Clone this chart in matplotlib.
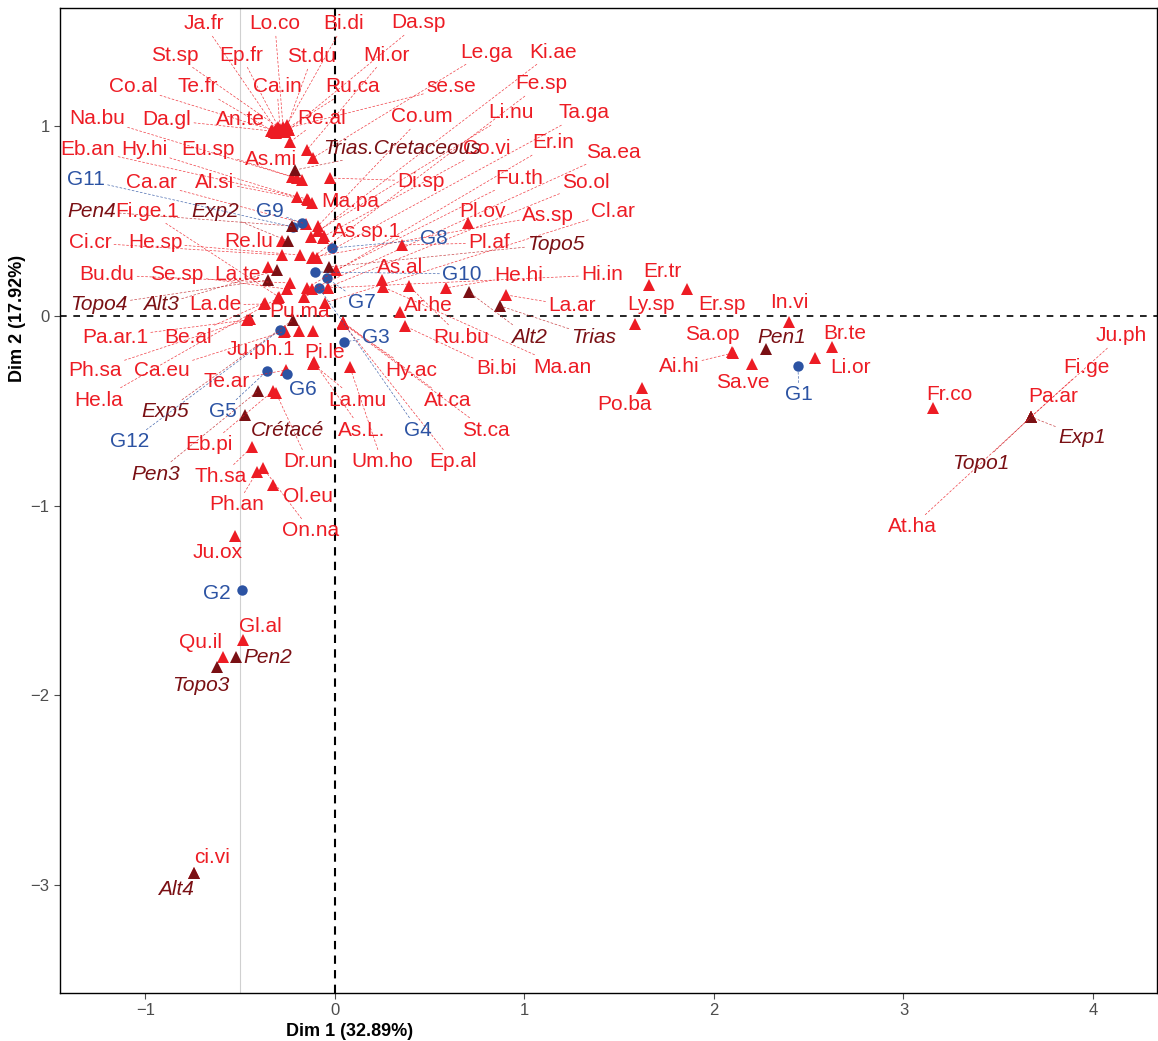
import numpy as np
import matplotlib
matplotlib.use("Agg")
import matplotlib.pyplot as plt

plt.rcParams['font.family'] = ['Liberation Sans', 'DejaVu Sans']

# ==========================================
# 1. DATA (coordonnees Dim 1 / Dim 2)
# ==========================================
# especes (points actifs)
esp_noms = ['Ja.fr', 'Lo.co', 'Bi.di', 'Da.sp', 'St.sp', 'Ep.fr', 'St.du', 'Co.al', 'Te.fr', 'Ca.in',
            'Ru.ca', 'se.se', 'Da.gl', 'An.te', 'Re.al', 'Mi.or', 'Le.ga', 'Na.bu', 'As.mi', 'Eu.sp',
            'Di.sp', 'Hy.hi', 'Eb.an', 'Al.si', 'Ma.pa', 'Ca.ar', 'Co.um', 'Li.nu', 'Ki.ae', 'As.sp.1',
            'Co.vi', 'Re.lu', 'Ci.cr', 'He.sp', 'Fe.sp', 'Ta.ga', 'As.sp', 'La.te', 'Fu.th', 'Bu.du',
            'Se.sp', 'Er.in', 'Sa.ea', 'Hi.in', 'Fi.ge.1', 'He.la', 'So.ol', 'La.de', 'Be.al', 'Pa.ar.1',
            'Ph.sa', 'Ca.eu', 'Cl.ar', 'Ju.ph.1', 'Pu.ma', 'Pi.le', 'Hy.ac', 'At.ca', 'St.ca', 'Ep.al',
            'La.mu', 'As.L.', 'Um.ho', 'Te.ar', 'Eb.pi', 'Dr.un', 'Th.sa', 'Ph.an', 'On.na', 'Ol.eu',
            'Ju.ox', 'Gl.al', 'Qu.il', 'ci.vi', 'Pl.ov', 'Pl.af', 'As.al', 'Ma.an', 'Ru.bu', 'He.hi',
            'La.ar', 'Ar.he', 'Bi.bi', 'Ly.sp', 'Po.ba', 'Er.tr', 'Er.sp', 'In.vi', 'Sa.op', 'Ai.hi',
            'Sa.ve', 'Br.te', 'Li.or', 'Fr.co', 'Ju.ph', 'Fi.ge', 'Pa.ar', 'At.ha']
esp_dim1 = [-0.311, -0.274, -0.253, -0.243, -0.301, -0.285, -0.264, -0.332, -0.322, -0.290,
            -0.248, -0.269, -0.338, -0.311, -0.237, -0.148, -0.116, -0.227, -0.201, -0.174,
            -0.026, -0.201, -0.148, -0.140, -0.121, -0.153, -0.090, -0.090, -0.127, -0.063,
            -0.058, -0.280, -0.280, -0.185, -0.121, -0.095, -0.115, -0.354, 0.005, -0.237,
            -0.253, -0.148, -0.121, -0.037, -0.296, -0.300, -0.164, -0.375, -0.370, -0.464,
            -0.450, -0.265, -0.053, -0.269, -0.190, -0.116, 0.042, 0.040, 0.045, 0.040,
            -0.116, -0.110, 0.079, -0.259, -0.327, -0.311, -0.438, -0.412, -0.380, -0.327,
            -0.528, -0.485, -0.591, -0.744, 0.702, 0.354, 0.248, 0.253, 0.391, 0.586,
            0.902, 0.343, 0.369, 1.583, 1.620, 1.657, 1.858, 2.396, 2.095, 2.100,
            2.201, 2.623, 2.533, 3.156, 3.673, 3.673, 3.673, 3.673]
esp_dim2 = [0.985, 0.996, 1.007, 0.980, 0.996, 0.970, 0.970, 0.980, 0.970, 0.985,
            0.991, 0.985, 0.975, 0.964, 0.917, 0.875, 0.833, 0.733, 0.727, 0.717,
            0.727, 0.627, 0.617, 0.610, 0.596, 0.485, 0.474, 0.448, 0.416, 0.411,
            0.420, 0.395, 0.321, 0.321, 0.306, 0.306, 0.310, 0.258, 0.242, 0.174,
            0.142, 0.148, 0.142, 0.148, 0.100, 0.095, 0.100, 0.063, 0.070, -0.021,
            -0.015, -0.080, 0.069, -0.084, -0.079, -0.079, -0.037, -0.030, -0.040, -0.035,
            -0.253, -0.245, -0.269, -0.285, -0.395, -0.406, -0.690, -0.822, -0.801, -0.891,
            -1.159, -1.707, -1.797, -2.935, 0.490, 0.374, 0.190, 0.153, 0.158, 0.148,
            0.111, 0.021, -0.053, -0.042, -0.379, 0.163, 0.142, -0.032, -0.190, -0.195,
            -0.253, -0.163, -0.221, -0.485, -0.532, -0.532, -0.532, -0.532]

# variables environnementales (supplementaires)
env_noms = ['Trias.Cretaceous', 'Pen4', 'Exp2', 'Alt3', 'Topo4', 'Topo5', 'Exp5', 'Alt2', 'Trias',
            'Pen1', 'Pen3', 'Crétacé', 'Pen2', 'Topo3', 'Alt4', 'Exp1', 'Topo1']
env_dim1 = [-0.211, -0.227, -0.248, -0.306, -0.354, -0.032, -0.222, 0.707, 0.871,
            2.274, -0.406, -0.475, -0.522, -0.623, -0.744, 3.673, 3.673]
env_dim2 = [0.769, 0.474, 0.395, 0.242, 0.190, 0.258, -0.021, 0.126, 0.053,
            -0.174, -0.395, -0.522, -1.797, -1.850, -2.935, -0.532, -0.532]

# groupes
grp_noms = ['G1', 'G2', 'G3', 'G4', 'G5', 'G6', 'G7', 'G8', 'G9', 'G10', 'G11', 'G12']
grp_dim1 = [2.443, -0.491, 0.047, -0.084, -0.359, -0.253, -0.042, -0.016, -0.174, -0.106, -0.222, -0.290]
grp_dim2 = [-0.264, -1.444, -0.137, 0.148, -0.290, -0.306, 0.200, 0.358, 0.490, 0.232, 0.469, -0.074]

# ==========================================
# 2. PLACEMENT DES ETIQUETTES (style ggrepel)
# ==========================================
etiquettes = {
    'Ja.fr': (-0.691, 1.539), 'Lo.co': (-0.317, 1.539), 'Bi.di': (0.047, 1.539), 'Da.sp': (0.443, 1.544),
    'St.sp': (-0.844, 1.375), 'Ep.fr': (-0.496, 1.375), 'St.du': (-0.121, 1.365), 'Mi.or': (0.274, 1.375),
    'Le.ga': (0.797, 1.391), 'Ki.ae': (1.150, 1.391), 'Co.al': (-1.066, 1.207), 'Te.fr': (-0.723, 1.207),
    'Ca.in': (-0.306, 1.207), 'Ru.ca': (0.095, 1.207), 'se.se': (0.612, 1.207), 'Fe.sp': (1.087, 1.223),
    'Na.bu': (-1.256, 1.043), 'Da.gl': (-0.887, 1.033), 'An.te': (-0.501, 1.038), 'Re.al': (-0.069, 1.043),
    'Co.um': (0.459, 1.049), 'Li.nu': (0.929, 1.070), 'Ta.ga': (1.314, 1.070), 'Eb.an': (-1.303, 0.875),
    'Hy.hi': (-1.008, 0.875), 'Eu.sp': (-0.670, 0.875), 'As.mi': (-0.338, 0.827), 'Co.vi': (0.800, 0.885),
    'Er.in': (1.150, 0.912), 'Sa.ea': (1.467, 0.864), 'Ca.ar': (-0.966, 0.701), 'Al.si': (-0.633, 0.706),
    'Di.sp': (0.454, 0.711), 'Fu.th': (0.971, 0.727), 'So.ol': (1.325, 0.701), 'Fi.ge.1': (-0.992, 0.553),
    'Ma.pa': (0.079, 0.601), 'Pl.ov': (0.776, 0.553), 'As.sp': (1.124, 0.532), 'Cl.ar': (1.467, 0.548),
    'Ci.cr': (-1.293, 0.385), 'He.sp': (-0.950, 0.385), 'Re.lu': (-0.454, 0.395), 'As.sp.1': (0.169, 0.443),
    'Pl.af': (0.813, 0.385), 'Bu.du': (-1.203, 0.216), 'Se.sp': (-0.834, 0.216), 'La.te': (-0.512, 0.216),
    'As.al': (0.343, 0.253), 'He.hi': (0.971, 0.211), 'Hi.in': (1.409, 0.216), 'Er.tr': (1.726, 0.232),
    'La.de': (-0.633, 0.058), 'Ar.he': (0.491, 0.053), 'La.ar': (1.251, 0.053), 'Ly.sp': (1.668, 0.058),
    'Er.sp': (2.042, 0.063), 'In.vi': (2.396, 0.069), 'Pu.ma': (-0.185, 0.021), 'Pa.ar.1': (-1.161, -0.111),
    'Be.al': (-0.776, -0.111), 'Ru.bu': (0.665, -0.111), 'Sa.op': (1.989, -0.100), 'Br.te': (2.691, -0.095),
    'Ju.ph.1': (-0.391, -0.179), 'Pi.le': (-0.053, -0.190), 'Ph.sa': (-1.266, -0.285), 'Ca.eu': (-0.913, -0.285),
    'Hy.ac': (0.401, -0.285), 'Bi.bi': (0.850, -0.279), 'Ma.an': (1.198, -0.269), 'Ai.hi': (1.815, -0.264),
    'Li.or': (2.723, -0.269), 'Sa.ve': (2.153, -0.348), 'Te.ar': (-0.570, -0.343), 'He.la': (-1.245, -0.443),
    'Po.ba': (1.530, -0.469), 'La.mu': (0.116, -0.443), 'At.ca': (0.596, -0.443), 'As.L.': (0.142, -0.601),
    'St.ca': (0.797, -0.601), 'Eb.pi': (-0.665, -0.680), 'Dr.un': (-0.142, -0.769), 'Um.ho': (0.248, -0.769),
    'Ep.al': (0.623, -0.769), 'Th.sa': (-0.602, -0.848), 'Ol.eu': (-0.142, -0.954), 'Ph.an': (-0.517, -0.996),
    'On.na': (-0.127, -1.133), 'Ju.ox': (-0.617, -1.249), 'Gl.al': (-0.396, -1.639), 'Qu.il': (-0.712, -1.723),
    'ci.vi': (-0.649, -2.856), 'Fr.co': (3.240, -0.416), 'Ju.ph': (4.148, -0.105), 'Fi.ge': (3.963, -0.269),
    'Pa.ar': (3.789, -0.427), 'At.ha': (3.045, -1.112),
    # variables
    'Trias.Cretaceous': (0.354, 0.885), 'Pen4': (-1.282, 0.553), 'Exp2': (-0.633, 0.553),
    'Topo5': (1.166, 0.379), 'Topo4': (-1.245, 0.058), 'Alt3': (-0.918, 0.058), 'Exp5': (-0.897, -0.506),
    'Alt2': (1.024, -0.111), 'Trias': (1.367, -0.111), 'Pen1': (2.359, -0.111), 'Pen3': (-0.945, -0.833),
    'Crétacé': (-0.253, -0.606), 'Pen2': (-0.354, -1.802), 'Topo3': (-0.707, -1.945), 'Alt4': (-0.839, -3.020),
    'Exp1': (3.942, -0.638), 'Topo1': (3.409, -0.780),
    # groupes
    'G1': (2.449, -0.416), 'G2': (-0.623, -1.460), 'G3': (0.216, -0.111), 'G4': (0.438, -0.601),
    'G5': (-0.591, -0.506), 'G6': (-0.169, -0.390), 'G7': (0.142, 0.069), 'G8': (0.522, 0.406),
    'G9': (-0.343, 0.553), 'G10': (0.670, 0.221), 'G11': (-1.314, 0.717), 'G12': (-1.082, -0.664),
}

ROUGE = '#ED1C24'
BORDEAUX = '#7A1014'
BLEU = '#2C53A3'

# ==========================================
# 3. FIGURE
# ==========================================
fig = plt.figure(figsize=(11.58, 10.41), dpi=100)
ax = fig.add_axes([60 / 1158, 48 / 1041, 1097 / 1158, 985 / 1041])
ax.set_xlim(-1.451, 4.338)
ax.set_ylim(-3.568, 1.623)

ax.axvline(-0.5, color='#d0d0d0', lw=0.8, zorder=0)
ax.axhline(0, color='black', lw=1.2, ls=(0, (4, 4)), zorder=1)
ax.axvline(0, color='black', lw=1.5, ls=(0, (4, 3)), zorder=1)

ax.plot(esp_dim1, esp_dim2, '^', color=ROUGE, ms=8, mew=0, zorder=3)
ax.plot(grp_dim1, grp_dim2, 'o', color=BLEU, ms=7.5, mew=0, zorder=4)
ax.plot(env_dim1, env_dim2, '^', color=BORDEAUX, ms=8, mew=0, zorder=5)

# px par unite (pour decider si on trace un segment)
PX_X, PX_Y = 189.5, 189.75


def etiqueter(noms, xs, ys, couleur, couleur_trait, italique=False):
    for nom, x, y in zip(noms, xs, ys):
        lx, ly = etiquettes[nom]
        dx = abs(lx - x) * PX_X
        dy = abs(ly - y) * PX_Y
        gx = max(dx - 5.1 * len(nom), 0)
        gy = max(dy - 9, 0)
        fleche = None
        if np.hypot(gx, gy) > 15:
            fleche = dict(arrowstyle='-', color=couleur_trait, lw=0.5, ls=(0, (3, 3)),
                          shrinkA=0, shrinkB=1, alpha=0.85)
        ax.annotate(nom, xy=(x, y), xytext=(lx, ly), ha='center', va='center',
                    fontsize=15, color=couleur, style='italic' if italique else 'normal',
                    arrowprops=fleche, zorder=6)


etiqueter(esp_noms, esp_dim1, esp_dim2, ROUGE, ROUGE)
etiqueter(env_noms, env_dim1, env_dim2, BORDEAUX, '#C0282C', italique=True)
etiqueter(grp_noms, grp_dim1, grp_dim2, BLEU, BLEU)

# axes
ax.set_xticks([-1, 0, 1, 2, 3, 4])
ax.set_yticks([-3, -2, -1, 0, 1])
ax.tick_params(labelsize=12, colors='#4d4d4d', length=4)
for s in ax.spines.values():
    s.set_color('black')
    s.set_linewidth(1.0)

fig.text(350 / 1158, 10 / 1041, 'Dim 1 (32.89%)', ha='center', va='center',
         fontsize=13, fontweight='bold')
fig.text(18 / 1158, 1 - 318 / 1041, 'Dim 2 (17.92%)', ha='center', va='center',
         rotation=90, fontsize=13, fontweight='bold')

fig.savefig('out.png', dpi=100)
